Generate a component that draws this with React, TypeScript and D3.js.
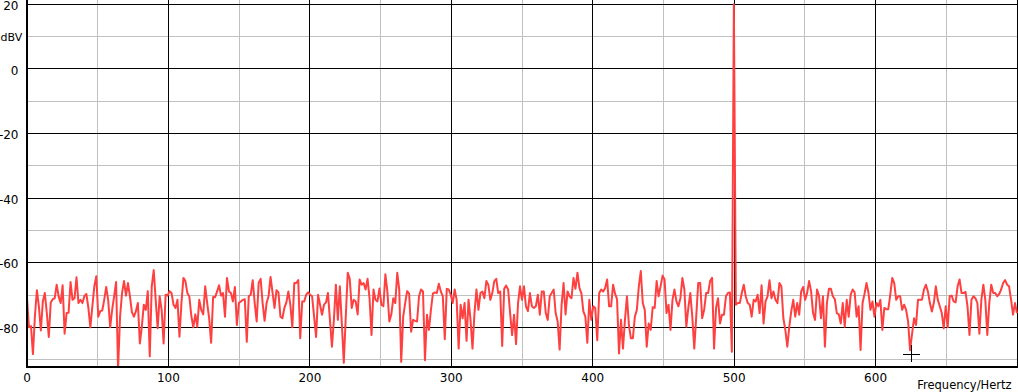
import React from 'react';
import * as d3 from 'd3';

// spectrum magnitude (dBV), one value every 1.4 Hz from 0 to 700 Hz
const FREQ_STEP = 1.4;
const dbv = [
  -71, -80, -79.6, -88.3, -76.5, -68.5, -73.5, -81, -72, -69.4,
  -75.5, -83, -72.3, -71.3, -71, -66.8, -70.5, -72.5, -67, -82,
  -75.6, -75.5, -66, -71.5, -71, -64.5, -72.5, -71.5, -72.5, -70.3,
  -69.7, -74, -80, -73.5, -67.3, -64.2, -76.7, -75, -74.8, -71.5,
  -67.5, -71.5, -80, -74.6, -70.4, -66, -93, -76.7, -69.4, -65.7,
  -70.2, -66.3, -70.4, -75.4, -76.7, -75, -72.5, -85, -79.8, -73,
  -74.6, -68.8, -89, -67.3, -62.3, -71.5, -80.3, -70.4, -74.6, -85,
  -69.9, -70.2, -68.8, -69.4, -73, -74, -71.5, -82.9, -72.5, -64.7,
  -65.7, -69.4, -70.5, -76.5, -80, -76, -79.8, -71.5, -74.6, -76,
  -67.3, -72.5, -77.2, -84.8, -70.6, -70.7, -68.9, -67, -70.2, -69.4,
  -76.7, -64.7, -68.9, -69.4, -72, -67.5, -79.3, -72.5, -72, -71.5,
  -71.3, -84.5, -70.4, -69.9, -65.4, -72.5, -78.2, -66.3, -65, -72.5,
  -78, -72.5, -70.4, -64.4, -69.2, -74, -68.5, -69.2, -76.7, -77.2,
  -74, -72.3, -68.9, -73, -80, -66.3, -66.3, -65.4, -83.4, -72,
  -72, -69.9, -69.2, -69.9, -70.4, -76.7, -83, -69.9, -73, -76.1,
  -73, -72.3, -69.4, -77.7, -86, -77.7, -66.8, -77.7, -67.3, -78.8,
  -91, -76.7, -63.1, -65, -74, -71.5, -72, -76, -65.2, -66.8,
  -66.3, -68.3, -65, -71, -82.4, -68.3, -71.5, -72, -68, -73,
  -73.5, -63.6, -68.8, -78.2, -76, -71, -72.5, -63.1, -68.3, -90.7,
  -76.7, -72.5, -68.8, -69.6, -81.4, -77.7, -78, -78.2, -70.4, -68.3,
  -68.9, -90.2, -76.1, -80.8, -74.6, -69.6, -69.2, -69.4, -66.5, -68.9,
  -70.4, -83.7, -68.1, -68.3, -69.9, -72.5, -68.3, -71.5, -86.6, -73,
  -77.2, -72.5, -84.2, -71.5, -77.7, -86.6, -75.6, -68.3, -74.6, -69.4,
  -68.9, -71, -65.7, -66.8, -71.5, -69.4, -65.7, -65, -69.4, -68.9,
  -85.8, -68.1, -67.1, -68.3, -75.6, -82.4, -76.1, -85.2, -72.5, -67.3,
  -71.5, -67.3, -73.5, -75, -69.4, -73.5, -74, -73.5, -69.9, -76.1,
  -68.9, -68.9, -75.6, -77.7, -70.4, -69.4, -68.3, -75.6, -78.2, -86.9,
  -73, -66.3, -76, -68.9, -70.4, -71, -64.7, -68.1, -63.1, -67.8,
  -69.5, -75.1, -76.7, -84.8, -71.5, -77.7, -73.5, -74, -84, -69.4,
  -68.3, -68.9, -67.8, -65.2, -73.5, -73.5, -66.8, -69.6, -71.3, -88.1,
  -77.7, -86.6, -77.7, -70.4, -79.3, -83.4, -83.4, -76.7, -74.6, -67.3,
  -62.6, -72.5, -74.6, -86, -78.8, -80.8, -73.8, -74, -65.7, -70.4,
  -67.3, -64, -65.2, -75.6, -73, -80.8, -71.5, -68.3, -72, -73.5,
  -71, -64.7, -68.3, -79.8, -74, -69.4, -76.7, -86.6, -76.7, -66.3,
  -66.3, -77.2, -74.6, -69.4, -69.4, -65.7, -64.7, -86.6, -74, -71,
  -78.8, -76.1, -76.1, -70.4, -69.4, -69.2, -87.6, 20, -73, -72.5,
  -72.5, -69.4, -66.8, -70.4, -72.5, -73, -76.7, -71.5, -72, -69.9,
  -75.6, -67, -78.8, -72, -70.4, -65.4, -71, -68.9, -71.5, -72.5,
  -66.3, -67.3, -77.2, -80.8, -86, -79.8, -75, -71.5, -76.7, -72.5,
  -76.1, -68.9, -67.5, -71.5, -69.4, -65.7, -68.8, -75.6, -77.7, -68.3,
  -70.2, -77.2, -70.4, -86, -72.5, -68.1, -68.1, -70.4, -71.3, -75.6,
  -76, -78.8, -72.5, -79.8, -71.5, -76.7, -69.9, -68.3, -69.2, -76.7,
  -73.5, -87, -72.5, -69.6, -66.3, -69.4, -74.6, -72, -76.7, -72.5,
  -73.5, -71.5, -80.8, -74, -74.4, -74.4, -69.9, -64.7, -66.3, -71.5,
  -70.4, -70.4, -74.6, -73, -74.6, -78.2, -87.1, -82, -77.2, -79.3,
  -71.5, -71.5, -71.5, -68.3, -66.8, -68.9, -72.5, -75.1, -72.5, -67.3,
  -71.5, -73.5, -75.6, -80.3, -73.5, -80, -70.4, -70.2, -72, -72.3,
  -67.3, -65.2, -69.4, -69.4, -69, -73.5, -82.4, -71.5, -70.4, -71,
  -72.5, -82, -71.5, -66.8, -71.5, -82.4, -72.5, -66.8, -69.4, -69.4,
  -70.4, -69.7, -68.3, -66.3, -65.4, -66.8, -67.3, -71.5, -76.1, -72.5,
  -75.6,
];

const xMajor = [0, 100, 200, 300, 400, 500, 600, 700];
const xMinor = [50, 150, 250, 350, 450, 550, 650];
const xLabels = [0, 100, 200, 300, 400, 500, 600];
const yMajor = [20, 0, -20, -40, -60, -80];
const yMinor = [10, -10, -30, -50, -70, -90];
const yLabels = [20, 0, -20, -40, -60, -80];
const cursor = { freq: 625, dbv: -88.3 };

const W = 1018;
const H = 392;
const left = 27;
const right = 1017;
const top = 0;
const bottom = 367;

export default function App() {
  const x = d3.scaleLinear().domain([0, 700]).range([left, right]);
  const y = d3.scaleLinear().domain([-80, 20]).range([327.3, 4.3]);

  const pts = dbv.map((v, i) => [i * FREQ_STEP, v]);
  const line = d3.line<number[]>()
    .x(d => x(d[0]))
    .y(d => y(d[1]));

  const font = '"DejaVu Sans", sans-serif';

  return (
    <div style={{ position: 'absolute', left: 0, top: 0 }}>
      <svg width={W} height={H} style={{ display: 'block', background: '#fff' }}>
        <defs>
          <clipPath id="plot">
            <rect x={left} y={top} width={right - left + 2} height={bottom - top} />
          </clipPath>
        </defs>

        {/* minor grid */}
        {xMinor.map(f => (
          <line key={'xm' + f} x1={x(f)} x2={x(f)} y1={top} y2={bottom}
            stroke="#c0c0c0" shapeRendering="crispEdges" />
        ))}
        {yMinor.map(v => (
          <line key={'ym' + v} x1={left} x2={W} y1={y(v)} y2={y(v)}
            stroke="#c0c0c0" shapeRendering="crispEdges" />
        ))}

        {/* major grid */}
        {xMajor.map(f => (
          <line key={'xM' + f} x1={x(f)} x2={x(f)} y1={top} y2={bottom}
            stroke="#000" shapeRendering="crispEdges" />
        ))}
        {yMajor.map(v => (
          <line key={'yM' + v} x1={left} x2={W} y1={y(v)} y2={y(v)}
            stroke="#000" shapeRendering="crispEdges" />
        ))}

        {/* spectrum */}
        <path d={line(pts) || ''} fill="none" stroke="#ff4040" strokeWidth={2}
          strokeLinejoin="round" clipPath="url(#plot)" />

        {/* axes */}
        <line x1={left} x2={left} y1={top} y2={bottom + 1} stroke="#000" strokeWidth={2} />
        <line x1={left - 1} x2={W} y1={bottom} y2={bottom} stroke="#000" strokeWidth={2} />

        {/* cursor */}
        <g stroke="#000" shapeRendering="crispEdges">
          <line x1={x(cursor.freq) - 8} x2={x(cursor.freq) + 9} y1={y(cursor.dbv) + 0.5} y2={y(cursor.dbv) + 0.5} />
          <line x1={x(cursor.freq) + 0.5} x2={x(cursor.freq) + 0.5} y1={y(cursor.dbv) - 9} y2={y(cursor.dbv) + 8} />
        </g>

        {/* tick labels */}
        {yLabels.map(v => (
          <text key={'yl' + v} x={18.5} y={y(v) + 1.5} dy="0.35em" textAnchor="end"
            fontFamily={font} fontSize={12} fill="#000">{v}</text>
        ))}
        <text x={0.5} y={y(10) + 0.5} dy="0.35em" fontFamily={font} fontSize={11} fill="#000">dBV</text>
        {xLabels.map(f => (
          <text key={'xl' + f} x={x(f)} y={382} textAnchor="middle"
            fontFamily={font} fontSize={12} fill="#000">{f}</text>
        ))}
        <text x={1011.5} y={389} textAnchor="end" fontFamily={font} fontSize={11.5} fill="#000">Frequency/Hertz</text>
      </svg>
    </div>
  );
}
